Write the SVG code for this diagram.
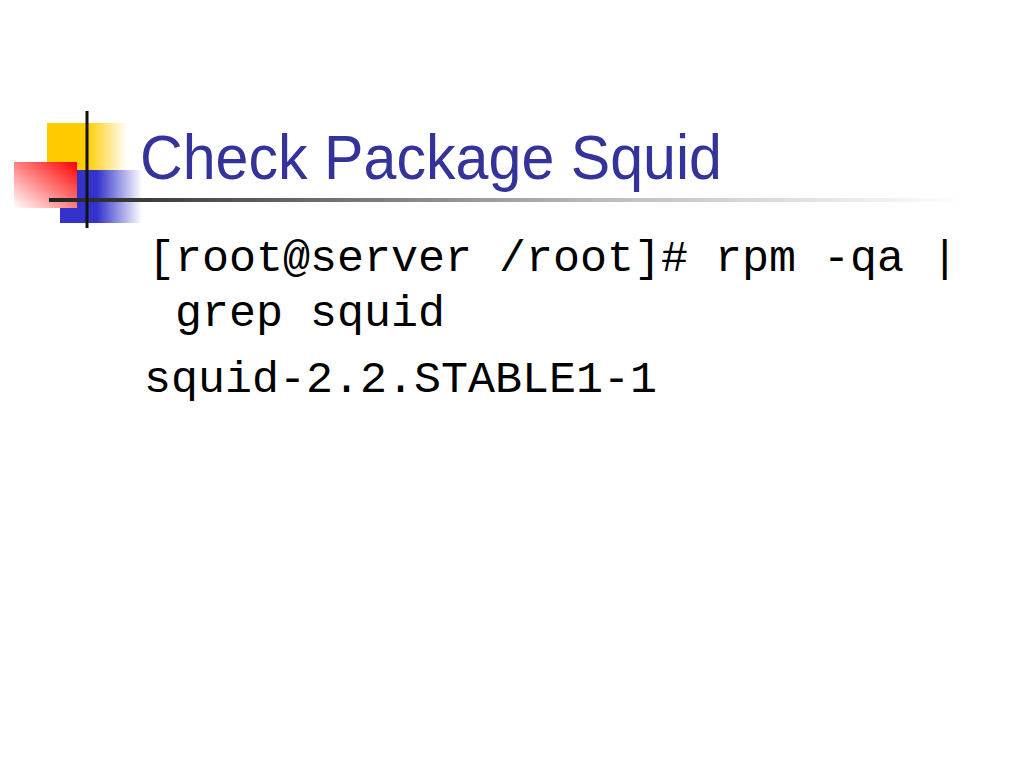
<svg xmlns="http://www.w3.org/2000/svg" width="1024" height="768" viewBox="0 0 1024 768">
<defs>
<linearGradient id="gy" x1="0" y1="0" x2="1" y2="0">
<stop offset="0" stop-color="#FFCC00"/>
<stop offset="0.5" stop-color="#FFCC00"/>
<stop offset="1" stop-color="#FFCC00" stop-opacity="0"/>
</linearGradient>
<linearGradient id="gb" x1="0" y1="0" x2="1" y2="0">
<stop offset="0" stop-color="#3333CC"/>
<stop offset="0.45" stop-color="#3333CC"/>
<stop offset="1" stop-color="#3333CC" stop-opacity="0"/>
</linearGradient>
<linearGradient id="gr" x1="1" y1="0" x2="0" y2="1">
<stop offset="0" stop-color="#FF0000"/>
<stop offset="1" stop-color="#FFFFFF"/>
</linearGradient>
<linearGradient id="gl" x1="0" y1="0" x2="1" y2="0">
<stop offset="0" stop-color="#222222"/>
<stop offset="0.6" stop-color="#BBBBBB"/>
<stop offset="1" stop-color="#FFFFFF"/>
</linearGradient>
<style>
.title{font-family:"Liberation Sans",Arial,sans-serif;font-size:63px;fill:#333399}
.body{font-family:"Liberation Mono","Courier New",monospace;font-size:45px;fill:#000000}
</style>
</defs>
<rect width="1024" height="768" fill="#FFFFFF"/>
<g id="logo">
<rect x="47" y="123" width="80" height="47" fill="url(#gy)"/>
<rect x="60" y="170" width="82" height="53" fill="url(#gb)"/>
<rect x="14" y="162" width="63" height="46" fill="url(#gr)"/>
<rect x="49" y="198" width="915" height="4" fill="url(#gl)"/>
<rect x="85.5" y="111" width="3" height="117" fill="#111111"/>
</g>
<g id="title">
<text class="title" x="140" y="179" textLength="582" lengthAdjust="spacingAndGlyphs">Check Package Squid</text>
</g>
<g id="body">
<text class="body" x="148" y="271">[root@server /root]# rpm -qa |</text>
<text class="body" x="175" y="326">grep squid</text>
<text class="body" x="144" y="392">squid-2.2.STABLE1-1</text>
</g>
</svg>
